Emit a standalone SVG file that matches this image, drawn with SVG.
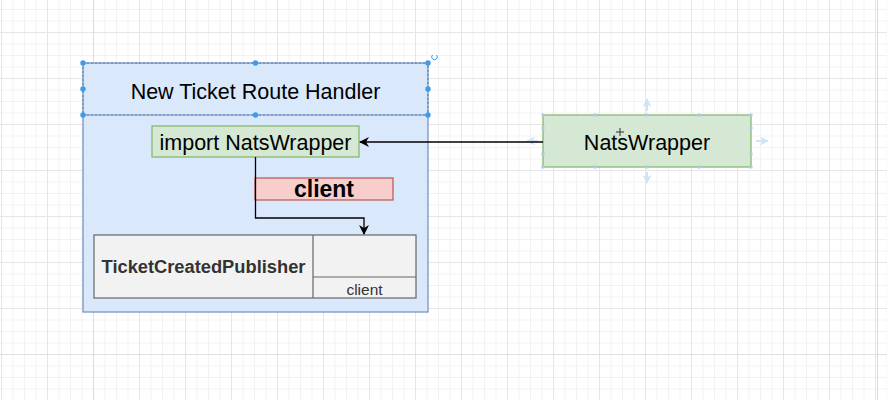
<svg xmlns="http://www.w3.org/2000/svg" width="887" height="400" viewBox="0 0 887 400">
<defs>
<pattern id="minor" width="11.5" height="11.5" patternUnits="userSpaceOnUse" x="1" y="9">
<path d="M0 0.5H11.5M0.5 0V11.5" fill="none" stroke="#f2f2f2" stroke-width="1"/>
</pattern>
<pattern id="major" width="46" height="46" patternUnits="userSpaceOnUse" x="1" y="32">
<path d="M0 0.5H46M0.5 0V46" fill="none" stroke="#e6e6e6" stroke-width="1"/>
</pattern>
<marker id="arr" viewBox="0 0 10 10" refX="9" refY="5" markerWidth="10" markerHeight="10" markerUnits="userSpaceOnUse" orient="auto">
<path d="M0 0L10 5L0 10L3 5Z" fill="#000"/>
</marker>
<marker id="hint" viewBox="0 0 10 10" refX="9" refY="5" markerWidth="9" markerHeight="9" markerUnits="userSpaceOnUse" orient="auto">
<path d="M0 0L10 5L0 10L3 5Z" fill="#cfe3f7"/>
</marker>
</defs>
<style>
text{font-family:"Liberation Sans",Arial,sans-serif;text-anchor:middle}
.t{font-size:21.5px;fill:#000}
.green{fill:#d5e8d4;stroke:#82b366;stroke-width:1.2}
.handle{fill:#3d9be9}
.conn{fill:none;stroke:#000;stroke-width:1.3}
.hintl{stroke:#cfe3f7;stroke-width:2;fill:none}
.gridd{stroke:#dcdcdc;stroke-width:1}
</style>
<rect width="887" height="400" fill="#fff"/>
<rect width="887" height="400" fill="url(#minor)"/>
<rect width="887" height="400" fill="url(#major)"/>
<line class="gridd" x1="93.5" y1="0" x2="93.5" y2="400"/>
<line class="gridd" x1="877.5" y1="0" x2="877.5" y2="400"/>
<line class="gridd" x1="0" y1="354.5" x2="887" y2="354.5" stroke-opacity="0.6"/>

<g id="route-handler">
<rect x="83" y="63" width="345" height="249" fill="#dae8fc" stroke="#6c8ebf" stroke-width="1.2"/>
<line x1="83" y1="115" x2="428" y2="115" stroke="#6c8ebf" stroke-width="1"/>
<text class="t" x="255.5" y="98.5">New Ticket Route Handler</text>
<rect x="83" y="63" width="345" height="52" fill="none" stroke="#4a6f9a" stroke-width="0.8" stroke-dasharray="2 2"/>
<circle class="handle" cx="83" cy="63" r="2.7"/>
<circle class="handle" cx="255.5" cy="63" r="2.7"/>
<circle class="handle" cx="428" cy="63" r="2.7"/>
<circle class="handle" cx="83" cy="89" r="2.7"/>
<circle class="handle" cx="428" cy="89" r="2.7"/>
<circle class="handle" cx="83" cy="115" r="2.7"/>
<circle class="handle" cx="255.5" cy="115" r="2.7"/>
<circle class="handle" cx="428" cy="115" r="2.7"/>
<path d="M436.5 55 A2.8 2.8 0 1 1 432.5 55" fill="none" stroke="#3d9be9" stroke-width="1"/>
</g>

<g id="import-natswrapper">
<rect class="green" x="152" y="126" width="207" height="31"/>
<text class="t" x="255.5" y="149.5">import NatsWrapper</text>
</g>

<g id="client-label">
<rect x="255" y="178" width="138" height="22" fill="#f8cecc" stroke="#b85450" stroke-width="1.2"/>
<text x="324" y="197" style="font-size:23px;font-weight:bold;fill:#000">client</text>
</g>

<g id="ticket-created-publisher">
<rect x="94" y="235" width="322" height="63" fill="#f2f2f2" stroke="#666" stroke-width="1.2"/>
<line x1="313" y1="235" x2="313" y2="298" stroke="#666" stroke-width="1.2"/>
<line x1="313" y1="277" x2="416" y2="277" stroke="#666" stroke-width="1.2"/>
<text x="203.5" y="273" style="font-size:18.3px;font-weight:bold;fill:#333">TicketCreatedPublisher</text>
<text x="364.5" y="294.5" style="font-size:15.5px;fill:#333">client</text>
</g>

<g id="natswrapper">
<rect class="green" x="543" y="115" width="208" height="52"/>
<text class="t" x="647" y="149.5">NatsWrapper</text>
<g fill="#a9cbeb">
<rect x="541.5" y="113.5" width="3" height="3"/><rect x="593.5" y="113.5" width="3" height="3"/><rect x="645.5" y="113.5" width="3" height="3"/><rect x="697.5" y="113.5" width="3" height="3"/><rect x="749.5" y="113.5" width="3" height="3"/>
<rect x="541.5" y="165.5" width="3" height="3"/><rect x="593.5" y="165.5" width="3" height="3"/><rect x="645.5" y="165.5" width="3" height="3"/><rect x="697.5" y="165.5" width="3" height="3"/><rect x="749.5" y="165.5" width="3" height="3"/>
<rect x="749.5" y="126.5" width="3" height="3"/><rect x="749.5" y="152.5" width="3" height="3"/><rect x="541.5" y="126.5" width="3" height="3"/><rect x="541.5" y="152.5" width="3" height="3"/>
</g>
<line class="hintl" x1="647" y1="111" x2="647" y2="99" marker-end="url(#hint)"/>
<line class="hintl" x1="647" y1="172" x2="647" y2="183" marker-end="url(#hint)"/>
<line class="hintl" x1="756" y1="141" x2="768" y2="141" marker-end="url(#hint)"/>
<line class="hintl" x1="538" y1="141" x2="527" y2="141" marker-end="url(#hint)"/>
<g stroke="#333" stroke-width="1" fill="none">
<line x1="620" y1="128" x2="620" y2="136"/><line x1="616" y1="132" x2="624" y2="132"/>
</g>
</g>

<g id="connectors">
<line class="conn" x1="543" y1="142" x2="360" y2="142" marker-end="url(#arr)"/>
<path class="conn" d="M255.5 157V218H364V234" marker-end="url(#arr)"/>
</g>
</svg>
